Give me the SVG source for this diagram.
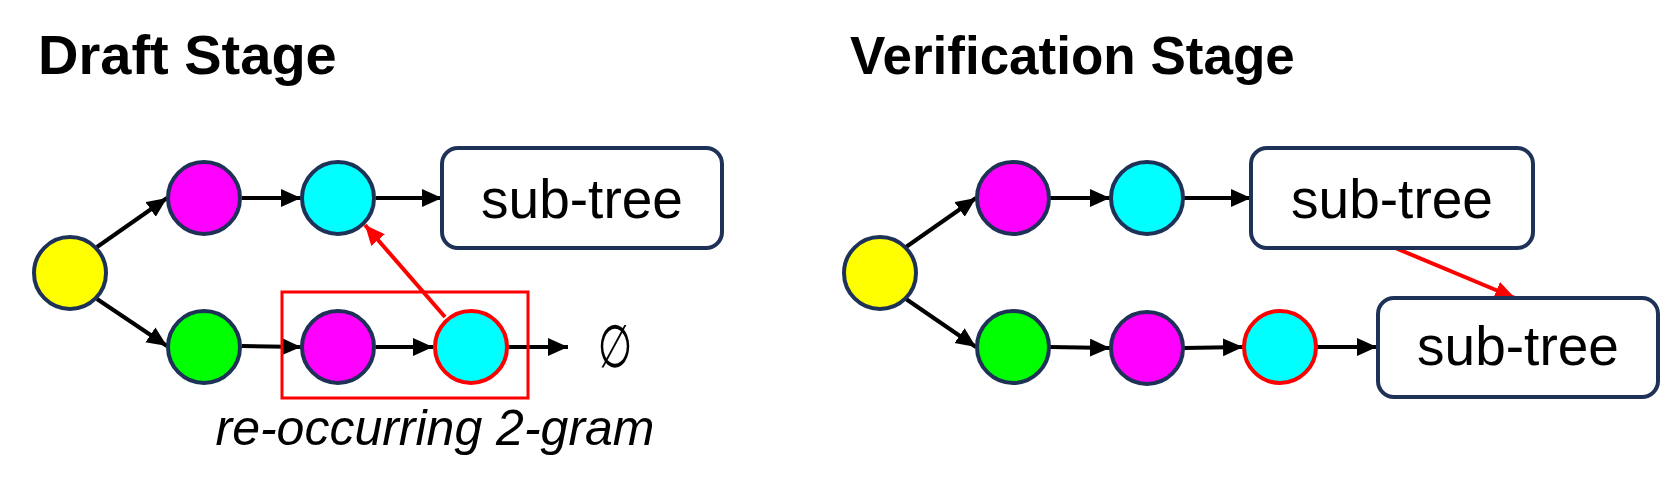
<svg xmlns="http://www.w3.org/2000/svg" width="1661" height="491" viewBox="0 0 1661 491">
<style>
.title{font-family:"Liberation Sans",Arial,sans-serif;font-weight:bold;fill:#000}
.lbl{font-family:"Liberation Sans",Arial,sans-serif;font-size:55px;fill:#000;text-anchor:middle}
.cap{font-family:"Liberation Sans",Arial,sans-serif;font-style:italic;font-size:50px;fill:#000;text-anchor:middle}
.nd{stroke:#1E3257;stroke-width:4}
.hl{stroke:#FF0000;stroke-width:4}
.box{fill:#fff;stroke:#1E3257;stroke-width:4}
.e{stroke:#000;stroke-width:4;fill:none;marker-end:url(#ah)}
.r{stroke:#FF0000;stroke-width:4;fill:none;marker-end:url(#ahr)}
</style>
<defs>
<marker id="ah" markerUnits="userSpaceOnUse" markerWidth="22" markerHeight="20" refX="20" refY="9" orient="auto">
<polygon points="0,0 20,9 0,18" fill="#000"/>
</marker>
<marker id="ahr" markerUnits="userSpaceOnUse" markerWidth="22" markerHeight="20" refX="20" refY="9" orient="auto">
<polygon points="0,0 20,9 0,18" fill="#FF0000"/>
</marker>
</defs>
<rect width="1661" height="491" fill="#fff"/>
<text class="title" x="38" y="74" font-size="56">Draft Stage</text>
<text class="title" x="850" y="74" font-size="53">Verification Stage</text>

<g id="connectors">
<line class="e" x1="97" y1="247" x2="167" y2="198"/>
<line class="e" x1="97" y1="299" x2="167" y2="346"/>
<line class="e" x1="242" y1="198" x2="301" y2="198"/>
<line class="e" x1="376" y1="198" x2="442" y2="198"/>
<line class="e" x1="242" y1="346" x2="301" y2="347"/>
<line class="e" x1="376" y1="347" x2="433" y2="347"/>
<line class="e" x1="508" y1="347" x2="568" y2="347"/>
<line class="r" x1="445" y1="317" x2="365" y2="225"/>
<line class="e" x1="906" y1="247" x2="976" y2="198"/>
<line class="e" x1="906" y1="299" x2="976" y2="347"/>
<line class="e" x1="1050" y1="198" x2="1110" y2="198"/>
<line class="e" x1="1184" y1="198" x2="1251" y2="198"/>
<line class="e" x1="1050" y1="347" x2="1110" y2="348"/>
<line class="e" x1="1184" y1="348" x2="1243" y2="347"/>
<line class="e" x1="1317" y1="347" x2="1377" y2="347"/>
<line class="r" x1="1393" y1="247" x2="1515" y2="298"/>
</g>

<g id="draft-root"><circle class="nd" cx="70" cy="273" r="36" fill="#FFFF00"/></g>
<g id="draft-top1"><circle class="nd" cx="204" cy="198" r="36" fill="#FF00FF"/></g>
<g id="draft-top2"><circle class="nd" cx="338" cy="198" r="36" fill="#00FFFF"/></g>
<g id="draft-subtree"><rect class="box" x="442" y="148" width="280" height="100" rx="16"/><text class="lbl" x="582" y="218">sub-tree</text></g>
<g id="draft-bot1"><circle class="nd" cx="204" cy="347" r="36" fill="#00FF00"/></g>
<g id="draft-ngram"><rect x="282" y="292" width="246" height="106" fill="none" stroke="#FF0000" stroke-width="3"/><text class="cap" x="435" y="445">re-occurring 2-gram</text></g>
<g id="draft-bot2"><circle class="nd" cx="338" cy="347" r="36" fill="#FF00FF"/></g>
<g id="draft-bot3"><circle class="hl" cx="471" cy="347" r="36" fill="#00FFFF"/></g>
<g id="draft-empty"><text transform="translate(615,367) scale(0.72,1.08)" font-family="Liberation Sans, DejaVu Sans, sans-serif" font-size="55" text-anchor="middle">∅</text></g>

<g id="verify-root"><circle class="nd" cx="880" cy="273" r="36" fill="#FFFF00"/></g>
<g id="verify-top1"><circle class="nd" cx="1013" cy="198" r="36" fill="#FF00FF"/></g>
<g id="verify-top2"><circle class="nd" cx="1147" cy="198" r="36" fill="#00FFFF"/></g>
<g id="verify-subtree1"><rect class="box" x="1251" y="148" width="282" height="100" rx="16"/><text class="lbl" x="1392" y="218">sub-tree</text></g>
<g id="verify-bot1"><circle class="nd" cx="1013" cy="347" r="36" fill="#00FF00"/></g>
<g id="verify-bot2"><circle class="nd" cx="1147" cy="348" r="36" fill="#FF00FF"/></g>
<g id="verify-bot3"><circle class="hl" cx="1280" cy="347" r="36" fill="#00FFFF"/></g>
<g id="verify-subtree2"><rect class="box" x="1378" y="298" width="280" height="99" rx="16"/><text class="lbl" x="1518" y="365">sub-tree</text></g>
</svg>
